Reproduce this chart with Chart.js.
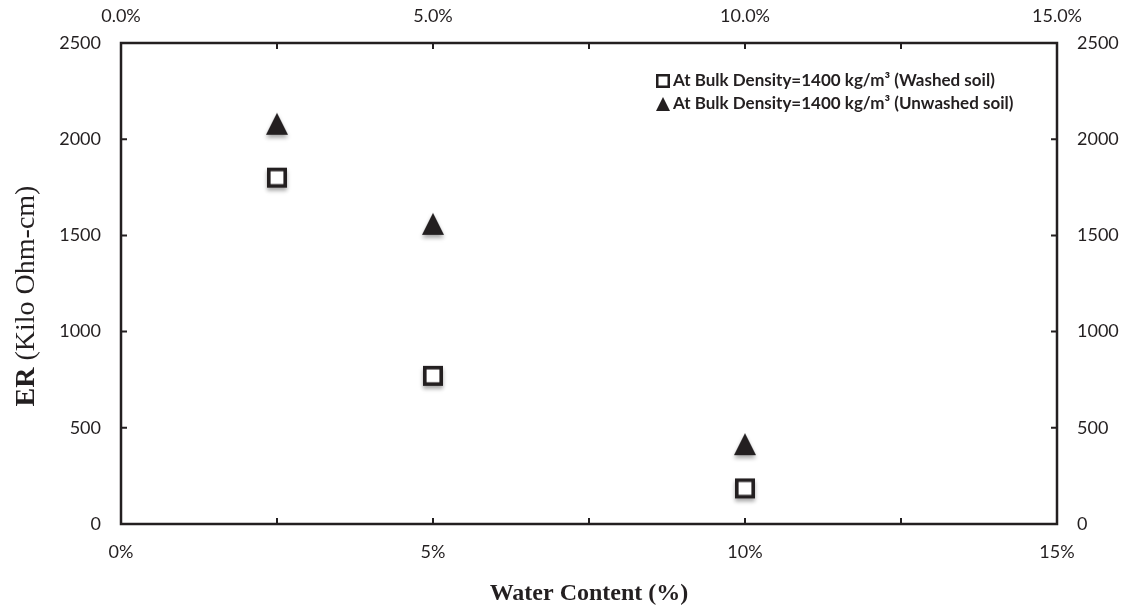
<!DOCTYPE html>
<html>
<head>
<meta charset="utf-8">
<title>ER vs Water Content</title>
<script src="https://cdn.jsdelivr.net/npm/chart.js@4.4.1/dist/chart.umd.min.js"></script>
<style>
  html, body { margin: 0; padding: 0; background: #fff; }
  #wrap { width: 1129px; height: 607px; position: relative; }
</style>
</head>
<body>
<div id="wrap"><canvas id="erChart"></canvas></div>
<script>
// Water content (fraction) and ER readings (kilo ohm-cm)
const waterContent = [0.025, 0.05, 0.10];
const erWashed = [1800, 770, 185];
const erUnwashed = [2080, 1560, 415];

const seriesLabels = [
  "At Bulk Density=1400 kg/m\u00b3 (Washed soil)",
  "At Bulk Density=1400 kg/m\u00b3 (Unwashed soil)"
];
const xTitle = "Water Content (%)";
const yTitleBold = "ER";
const yTitleRest = " (Kilo Ohm-cm)";

const INK = "#231f20";

// marker sprites: shape centred in its own canvas, soft drop shadow below
function makeMarker(kind, size, shadow) {
  const c = document.createElement("canvas");
  c.width = size + 16;
  c.height = size + 16;
  const g = c.getContext("2d");
  const cx = c.width / 2, cy = c.height / 2;
  if (shadow) {
    g.shadowColor = "rgba(0,0,0,0.35)";
    g.shadowBlur = 4;
    g.shadowOffsetY = 3;
  }
  if (kind === "square") {
    const lw = size * 0.18;
    g.fillStyle = INK;
    g.fillRect(cx - size / 2, cy - size / 2, size, size);
    g.shadowColor = "transparent";
    g.fillStyle = "#fff";
    g.fillRect(cx - size / 2 + lw, cy - size / 2 + lw, size - 2 * lw, size - 2 * lw);
  } else {
    g.fillStyle = INK;
    g.beginPath();
    g.moveTo(cx, cy - size / 2);
    g.lineTo(cx + size / 2, cy + size / 2);
    g.lineTo(cx - size / 2, cy + size / 2);
    g.closePath();
    g.fill();
  }
  return c;
}

const squareMarker = makeMarker("square", 20, true);
const triangleMarker = makeMarker("triangle", 22, true);
const squareIcon = makeMarker("square", 14, false);
const triangleIcon = makeMarker("triangle", 14, false);

const toPoints = (ys) => waterContent.map((x, i) => ({ x, y: ys[i] }));

function pctLabel(v, digits) {
  const k = Math.round(v * 1000);
  if (k % 50 !== 0) return "";
  return (v * 100).toFixed(digits) + "%";
}

// frame, inward ticks, axis titles and the in-plot legend
const decorPlugin = {
  id: "decor",
  afterDraw(chart) {
    const { ctx, chartArea: a, scales } = chart;
    ctx.save();
    ctx.strokeStyle = INK;
    ctx.lineWidth = 2.5;
    ctx.strokeRect(a.left, a.top, a.right - a.left, a.bottom - a.top);

    ctx.lineWidth = 2;
    ctx.beginPath();
    scales.y.ticks.forEach((t) => {
      const py = scales.y.getPixelForValue(t.value);
      if (py <= a.top + 1 || py >= a.bottom - 1) return;
      ctx.moveTo(a.left, py); ctx.lineTo(a.left + 6, py);
      ctx.moveTo(a.right, py); ctx.lineTo(a.right - 6, py);
    });
    scales.x.ticks.forEach((t) => {
      const px = scales.x.getPixelForValue(t.value);
      if (px <= a.left + 1 || px >= a.right - 1) return;
      ctx.moveTo(px, a.bottom); ctx.lineTo(px, a.bottom - 6);
      ctx.moveTo(px, a.top); ctx.lineTo(px, a.top + 6);
    });
    ctx.stroke();

    // x title
    ctx.fillStyle = INK;
    ctx.textAlign = "center";
    ctx.textBaseline = "alphabetic";
    ctx.font = "bold 24px 'Liberation Serif', 'Times New Roman', serif";
    ctx.fillText(xTitle, (a.left + a.right) / 2, 600);

    // y title, bold "ER" followed by regular text
    ctx.save();
    ctx.translate(34, 296);
    ctx.rotate(-Math.PI / 2);
    ctx.textAlign = "left";
    const fBold = "bold 28px 'Liberation Serif', 'Times New Roman', serif";
    const fReg = "28px 'Liberation Serif', 'Times New Roman', serif";
    ctx.font = fBold;
    const wB = ctx.measureText(yTitleBold).width;
    ctx.font = fReg;
    const wR = ctx.measureText(yTitleRest).width;
    const x0 = -(wB + wR) / 2;
    ctx.font = fBold;
    ctx.fillText(yTitleBold, x0, 0);
    ctx.font = fReg;
    ctx.fillText(yTitleRest, x0 + wB, 0);
    ctx.restore();

    // legend
    const icons = [squareIcon, triangleIcon];
    ctx.font = "bold 17px Lato, 'Open Sans', sans-serif";
    ctx.textAlign = "left";
    ctx.textBaseline = "middle";
    seriesLabels.forEach((label, i) => {
      const cy = 81 + i * 23;
      ctx.drawImage(icons[i], 663 - icons[i].width / 2, cy - icons[i].height / 2);
      ctx.fillText(label, 673, cy);
    });
    ctx.restore();
  }
};

const tickFont = { family: "Lato, 'Open Sans', sans-serif", size: 18 };
const plainNumber = (v) => String(v);

const chart = new Chart(document.getElementById("erChart"), {
  type: "scatter",
  data: {
    datasets: [
      {
        label: seriesLabels[0],
        data: toPoints(erWashed),
        pointStyle: squareMarker,
        xAxisID: "x",
        yAxisID: "y"
      },
      {
        label: seriesLabels[1],
        data: toPoints(erUnwashed),
        pointStyle: triangleMarker,
        xAxisID: "x",
        yAxisID: "y"
      }
    ]
  },
  options: {
    responsive: true,
    maintainAspectRatio: false,
    animation: false,
    layout: { padding: 0 },
    plugins: {
      legend: { display: false },
      tooltip: { enabled: false }
    },
    scales: {
      x: {
        type: "linear",
        position: "bottom",
        min: 0,
        max: 0.15,
        grid: { display: false },
        border: { display: false },
        ticks: {
          stepSize: 0.025,
          autoSkip: false,
          maxRotation: 0,
          padding: 9,
          color: INK,
          font: tickFont,
          callback: (v) => pctLabel(v, 0)
        },
        afterFit: (s) => { s.height = 83; }
      },
      x2: {
        type: "linear",
        position: "top",
        min: 0,
        max: 0.15,
        grid: { display: false },
        border: { display: false },
        ticks: {
          stepSize: 0.025,
          autoSkip: false,
          maxRotation: 0,
          padding: 8,
          color: INK,
          font: tickFont,
          callback: (v) => pctLabel(v, 1)
        },
        afterFit: (s) => { s.height = 43; }
      },
      y: {
        position: "left",
        min: 0,
        max: 2500,
        grid: { display: false },
        border: { display: false },
        ticks: { stepSize: 500, padding: 12, color: INK, font: tickFont, callback: plainNumber },
        afterFit: (s) => { s.width = 121; }
      },
      y2: {
        position: "right",
        min: 0,
        max: 2500,
        grid: { display: false },
        border: { display: false },
        ticks: { stepSize: 500, padding: 12, color: INK, font: tickFont, callback: plainNumber },
        afterFit: (s) => { s.width = 72; }
      }
    }
  },
  plugins: [decorPlugin]
});
</script>
</body>
</html>
